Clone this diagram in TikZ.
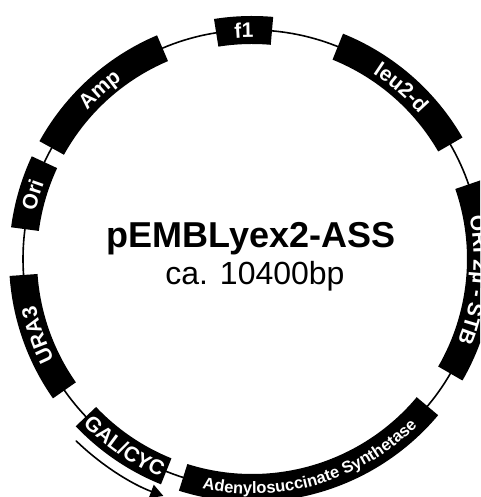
\documentclass[tikz,border=0pt]{standalone}
\usepackage{fontspec}
\setmainfont{Liberation Sans}
\usetikzlibrary{decorations.text,arrows.meta}
\newcommand{\genefont}{\fontsize{21}{22}\selectfont\bfseries\color{white}}
\newcommand{\orffont}{\fontsize{16.5}{17}\selectfont\bfseries\color{white}}
\tikzset{
	backbone/.style={line width=1.6},
	onarc/.style={decorate, decoration={text along path, text align=center, text={|\genefont|#1}}},
	onarcsmall/.style={decorate, decoration={text along path, text align=center, text={|\orffont|#1}}},
}
\begin{document}
\begin{tikzpicture}[x=1pt, y=1pt, line join=round, line cap=round]
	\useasboundingbox (0,0) rectangle (480,497);
	\clip (0,0) rectangle (480,497);
	\begin{scope}[shift={(252,238)}]
		\draw[backbone] (0,0) circle[radius=229];
		% gene boxes
		\foreach \a/\b in {85/99, 113/151, 155/172.5, 184/215, 223.5/248, 252.5/320, -30/19, 30/68}
			\fill (\a:215) arc[start angle=\a, end angle=\b, radius=215] -- (\b:243) arc[start angle=\b, end angle=\a, radius=243] -- cycle;
		% clockwise labels
		\path[onarc={f1}] (99:221.6) arc[start angle=99, end angle=85, radius=221.6];
		\path[onarc={Amp}] (151:221.6) arc[start angle=151, end angle=113, radius=221.6];
		\path[onarc={Ori}] (172.5:221.6) arc[start angle=172.5, end angle=155, radius=221.6];
		\path[onarc={URA3}] (215:221.6) arc[start angle=215, end angle=184, radius=221.6];
		\path[onarc={leu2-d}] (68:221.6) arc[start angle=68, end angle=30, radius=221.6];
		\path[onarc={ORI 2µ - STB}] (19:221.6) arc[start angle=19, end angle=-30, radius=221.6];
		% counter-clockwise labels
		\path[onarc={GAL/CYC}] (223.5:236.4) arc[start angle=223.5, end angle=248, radius=236.4];
		\path[onarcsmall={Adenylosuccinate Synthetase}] (252.5:234.9) arc[start angle=252.5, end angle=320, radius=234.9];
		% promoter direction
		\draw[backbone, -{Triangle[length=13pt, width=14pt]}] (226:253) arc[start angle=226, end angle=249.5, radius=253];
	\end{scope}
	\node[font=\fontsize{36}{40}\selectfont\bfseries, anchor=base] (name) at (251,249) {pEMBLyex2-ASS};
	\node[font=\fontsize{32}{36}\selectfont, anchor=base] (size) at (255,212) {ca. 10400bp};
\end{tikzpicture}
\end{document}
